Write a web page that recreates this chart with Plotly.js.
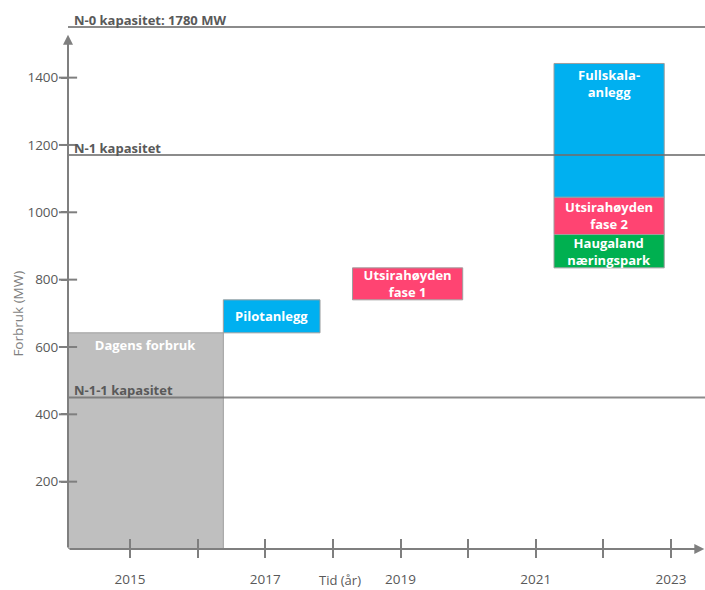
<!DOCTYPE html>
<html>
<head>
<meta charset="utf-8">
<script src="https://cdn.plot.ly/plotly-3.0.1.min.js"></script>
<style>html,body{margin:0;padding:0;background:#fff;}#chart{width:705px;height:590px;}</style>
</head>
<body>
<div id="chart"></div>
<script>
// ---- data ----
const itemLabels = ['Dagens forbruk', 'Pilotanlegg', 'Utsirahøyden<br>fase 1', 'Haugaland<br>næringspark', 'Utsirahøyden<br>fase 2', 'Fullskala-<br>anlegg'];
const startYear = [2014.08, 2016.38, 2018.29, 2021.27, 2021.27, 2021.27];
const endYear   = [2016.38, 2017.81, 2019.92, 2022.90, 2022.90, 2022.90];
const lowMW     = [0, 642, 740, 835, 934, 1045];
const highMW    = [642, 740, 835, 934, 1045, 1442];

const capacityLabels = ['N-0 kapasitet: 1780 MW', 'N-1 kapasitet', 'N-1-1 kapasitet'];
const capacityMW = [1550, 1170, 450];

const yTickVals = [200, 400, 600, 800, 1000, 1200, 1400];
const xTickVals = [2015, 2016, 2017, 2018, 2019, 2020, 2021, 2022, 2023];
const xTickText = ['2015', '', '2017', '', '2019', '', '2021', '', '2023'];

// ---- styles ----
const barColors = ['#bfbfbf', '#00b0f0', '#ff4472', '#00b050', '#ff4472', '#00b0f0'];
const textAnchor = ['end', 'middle', 'middle', 'middle', 'middle', 'end'];
const axisColor = '#7f7f7f';
const textGray = '#595959';
const X0 = 2014.083, X1 = 2023.503, Y1 = 1586;

const traces = [];
for (let i = 0; i < itemLabels.length; i++) {
  traces.push({
    type: 'bar',
    x: [(startYear[i] + endYear[i]) / 2],
    width: [endYear[i] - startYear[i]],
    base: [lowMW[i]],
    y: [highMW[i] - lowMW[i]],
    text: [itemLabels[i]],
    textposition: 'inside',
    insidetextanchor: textAnchor[i],
    constraintext: 'none',
    textfont: {family: 'Open Sans', size: 13, color: '#ffffff', weight: 'bold'},
    marker: {color: barColors[i], line: {color: '#9e9e9e', width: 1}},
    showlegend: false,
    hoverinfo: 'skip'
  });
}
for (let i = 0; i < capacityMW.length; i++) {
  traces.push({
    type: 'scatter', mode: 'lines',
    x: [X0, X1], y: [capacityMW[i], capacityMW[i]],
    line: {color: 'rgba(110,110,110,0.8)', width: 2},
    showlegend: false, hoverinfo: 'skip'
  });
}
// crossing tick marks on the y axis
traces.push({
  type: 'scatter', mode: 'markers',
  x: yTickVals.map(() => X0), y: yTickVals,
  marker: {symbol: 'line-ew', size: 13, line: {color: axisColor, width: 2}},
  cliponaxis: false, showlegend: false, hoverinfo: 'skip'
});
// helper trace for overlay tick axis
traces.push({type: 'scatter', mode: 'markers', x: [2015], y: [0], xaxis: 'x2', yaxis: 'y',
  marker: {opacity: 0}, showlegend: false, hoverinfo: 'skip'});

const annotations = [];
for (let i = 0; i < capacityMW.length; i++) {
  annotations.push({
    text: capacityLabels[i], x: X0, y: capacityMW[i], xref: 'x', yref: 'y',
    xanchor: 'left', yanchor: 'bottom', xshift: 4, yshift: -4, showarrow: false,
    font: {family: 'Open Sans', size: 13, color: textGray, weight: 'bold'}
  });
}
// axis arrows
annotations.push({text: '', x: X0, y: 1527, ax: X0, ay: 0, xref: 'x', yref: 'y', axref: 'x', ayref: 'y',
  showarrow: true, arrowhead: 2, arrowsize: 1, arrowwidth: 2, arrowcolor: axisColor, standoff: 0});
annotations.push({text: '', x: X1 - 0.01, y: 0, ax: X0, ay: 0, xref: 'x', yref: 'y', axref: 'x', ayref: 'y',
  showarrow: true, arrowhead: 2, arrowsize: 1, arrowwidth: 2, arrowcolor: axisColor, standoff: 0});
// axis titles
annotations.push({text: 'Forbruk (MW)', textangle: -90, xref: 'paper', yref: 'y', x: -0.078, y: 700,
  xanchor: 'center', yanchor: 'middle', showarrow: false,
  font: {family: 'Open Sans', size: 13.5, color: '#7f7f7f'}});
annotations.push({text: 'Tid (år)', xref: 'x', yref: 'paper', x: 2018.1, y: 0, yshift: -20,
  xanchor: 'center', yanchor: 'top', showarrow: false,
  font: {family: 'Open Sans', size: 13, color: textGray}});

const layout = {
  width: 705, height: 590,
  margin: {l: 68, r: 0, t: 15, b: 41},
  paper_bgcolor: '#ffffff', plot_bgcolor: '#ffffff',
  barmode: 'overlay',
  showlegend: false,
  xaxis: {
    range: [X0, X1], tickvals: xTickVals, ticktext: xTickText,
    ticks: 'outside', ticklen: 8, tickwidth: 2, tickcolor: axisColor,
    ticklabelstandoff: 10,
    showgrid: false, zeroline: false, showline: false,
    tickfont: {family: 'Open Sans', size: 13.5, color: textGray}
  },
  yaxis: {
    range: [0, Y1], tickvals: yTickVals,
    ticks: 'outside', ticklen: 6, tickwidth: 2, tickcolor: axisColor,
    showgrid: false, zeroline: false, showline: false,
    tickfont: {family: 'Open Sans', size: 13.5, color: textGray}
  },
  xaxis2: {
    overlaying: 'x', anchor: 'y', range: [X0, X1], tickvals: xTickVals,
    ticks: 'inside', ticklen: 10, tickwidth: 2, tickcolor: axisColor,
    showticklabels: false, showgrid: false, zeroline: false, showline: false
  },
  annotations: annotations
};

Plotly.newPlot('chart', traces, layout, {displayModeBar: false, staticPlot: true});
</script>
</body>
</html>
